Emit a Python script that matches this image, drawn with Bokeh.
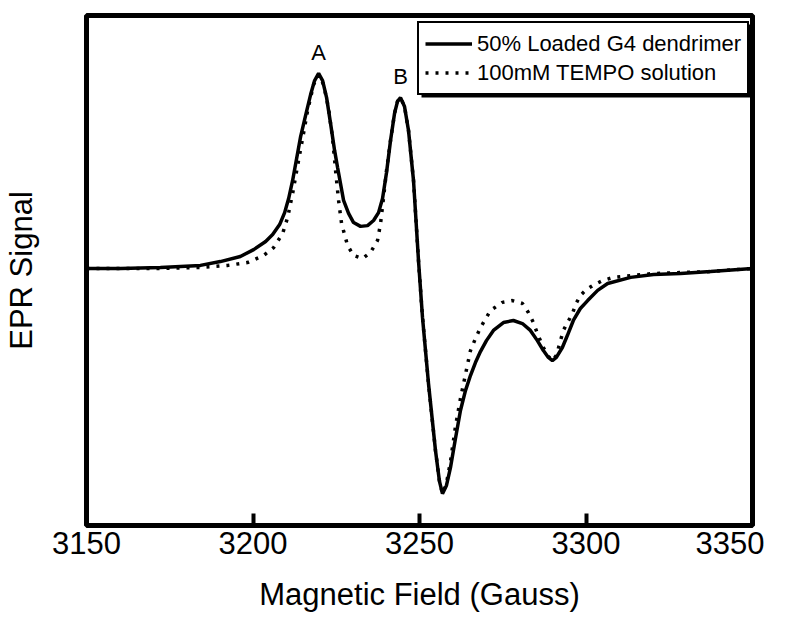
from bokeh.plotting import figure
from bokeh.models import FixedTicker, Legend, LegendItem, Range1d, BoxAnnotation
from bokeh.core.properties import value
from bokeh.embed import file_html
from bokeh.resources import INLINE

# Magnetic field (Gauss) and EPR signal (arbitrary units)
field_loaded = [3150.0, 3160.2, 3172.2, 3184.2, 3190.2, 3196.2, 3200.2, 3203.8, 3205.9, 3208.0,
                3209.5, 3210.7, 3211.9, 3213.1, 3214.3, 3215.8, 3217.3, 3218.5, 3219.7, 3220.9,
                3222.1, 3223.3, 3224.5, 3225.4, 3227.2, 3228.7, 3230.2, 3232.3, 3234.4, 3236.2,
                3237.7, 3238.9, 3240.1, 3241.3, 3242.5, 3243.4, 3244.3, 3245.5, 3246.7, 3248.2,
                3249.7, 3250.9, 3252.7, 3254.8, 3256.0, 3256.9, 3258.1, 3259.3, 3260.8, 3262.3,
                3263.8, 3265.3, 3266.8, 3268.3, 3270.1, 3272.2, 3275.2, 3278.2, 3280.9, 3283.3,
                3285.4, 3287.2, 3288.7, 3289.9, 3291.1, 3292.9, 3294.4, 3296.2, 3298.3, 3300.5,
                3303.5, 3306.5, 3313.4, 3320.3, 3328.4, 3337.4, 3350.0]
signal_loaded = [0.008, 0.008, 0.012, 0.020, 0.035, 0.055, 0.082, 0.114, 0.141, 0.180,
                 0.227, 0.282, 0.353, 0.439, 0.525, 0.608, 0.690, 0.745, 0.773, 0.745,
                 0.678, 0.576, 0.471, 0.404, 0.275, 0.224, 0.188, 0.173, 0.176, 0.196,
                 0.227, 0.282, 0.384, 0.510, 0.616, 0.663, 0.678, 0.643, 0.549, 0.353,
                 0.039, -0.184, -0.443, -0.706, -0.827, -0.875, -0.843, -0.773, -0.659, -0.549,
                 -0.471, -0.412, -0.361, -0.318, -0.275, -0.235, -0.204, -0.196, -0.208, -0.235,
                 -0.275, -0.314, -0.341, -0.353, -0.341, -0.302, -0.255, -0.196, -0.149, -0.118,
                 -0.078, -0.051, -0.027, -0.016, -0.012, -0.004, 0.008]

field_tempo = [3150.0, 3172.2, 3184.2, 3192.3, 3198.3, 3203.2, 3206.2, 3208.9, 3210.4, 3211.9,
               3213.4, 3214.9, 3216.4, 3218.2, 3219.7, 3221.2, 3222.7, 3223.9, 3224.8, 3225.7,
               3226.6, 3228.4, 3230.2, 3232.9, 3235.3, 3237.4, 3238.3, 3239.2, 3240.1, 3241.3,
               3242.5, 3243.4, 3244.3, 3245.5, 3246.7, 3248.2, 3249.7, 3250.9, 3252.7, 3254.8,
               3256.0, 3256.9, 3258.1, 3259.3, 3260.8, 3262.3, 3263.8, 3265.3, 3266.8, 3268.3,
               3271.3, 3274.9, 3277.9, 3280.9, 3282.7, 3284.2, 3285.4, 3287.2, 3288.7, 3289.9,
               3291.1, 3293.2, 3295.9, 3297.2, 3298.3, 3300.1, 3302.0, 3305.0, 3308.3, 3313.4,
               3320.3, 3328.4, 3337.4, 3350.0]
signal_tempo = [0.008, 0.008, 0.012, 0.020, 0.031, 0.059, 0.090, 0.145, 0.208, 0.302,
                0.412, 0.518, 0.627, 0.729, 0.769, 0.729, 0.635, 0.518, 0.392, 0.275,
                0.184, 0.098, 0.059, 0.047, 0.071, 0.118, 0.184, 0.286, 0.392, 0.510,
                0.616, 0.663, 0.678, 0.643, 0.549, 0.353, 0.039, -0.184, -0.443, -0.706,
                -0.827, -0.875, -0.835, -0.749, -0.612, -0.502, -0.408, -0.314, -0.267, -0.224,
                -0.157, -0.125, -0.118, -0.129, -0.165, -0.204, -0.247, -0.302, -0.337, -0.353,
                -0.333, -0.235, -0.169, -0.125, -0.098, -0.075, -0.059, -0.039, -0.027, -0.020,
                -0.012, -0.008, -0.004, 0.008]

x_ticks = [3150, 3200, 3250, 3300, 3350]
series_names = ["50% Loaded G4 dendrimer", "100mM TEMPO solution"]
peak_labels = ["A", "B"]

FONT = "Liberation Sans"

p = figure(frame_width=666, frame_height=510, min_border_left=86, min_border_top=15,
           min_border_right=12, min_border_bottom=100,
           x_range=Range1d(3150, 3350), y_range=Range1d(-1, 1),
           output_backend="svg", toolbar_location=None)
p.background_fill_color = "white"
p.border_fill_color = "white"
p.xgrid.visible = False
p.ygrid.visible = False
p.outline_line_color = "black"
p.outline_line_width = 5
p.outline_line_alpha = 1

xa = p.xaxis[0]
xa.ticker = FixedTicker(ticks=x_ticks)
xa.axis_line_color = None
xa.major_tick_in = 12
xa.major_tick_out = 0
xa.major_tick_line_width = 4
xa.major_tick_line_color = "black"
xa.minor_tick_line_color = None
xa.major_label_text_font = FONT
xa.major_label_text_font_size = "31px"
xa.major_label_text_color = "black"
xa.major_label_standoff = 6
xa.axis_label = "Magnetic Field (Gauss)"
xa.axis_label_text_font = FONT
xa.axis_label_text_font_size = "31px"
xa.axis_label_text_font_style = "normal"
xa.axis_label_text_color = "black"
xa.axis_label_standoff = 20

ya = p.yaxis[0]
ya.ticker = FixedTicker(ticks=[])
ya.axis_line_color = None
ya.major_tick_line_color = None
ya.minor_tick_line_color = None
ya.major_label_text_font_size = "0px"
ya.axis_label = "EPR Signal"
ya.axis_label_text_font = FONT
ya.axis_label_text_font_size = "31px"
ya.axis_label_text_font_style = "normal"
ya.axis_label_text_color = "black"
ya.axis_label_standoff = 48

r_tempo = p.line(field_tempo, signal_tempo, line_color="black", line_width=3.5,
                 line_dash="3 7")
r_loaded = p.line(field_loaded, signal_loaded, line_color="black", line_width=3.5)

# peak labels placed above the two low-field maxima of the loaded-dendrimer trace
iA = signal_loaded.index(max(signal_loaded[:30]))
iB = signal_loaded.index(max(signal_loaded[30:40]), 30)
p.text(x=[field_loaded[iA], field_loaded[iB]], y=[signal_loaded[iA], signal_loaded[iB]],
       text=peak_labels, text_font=value(FONT), text_font_size="22px",
       text_color="black", text_align="center", text_baseline="middle", y_offset=-21)

# drop shadow behind the legend box
shadow = BoxAnnotation(left=421, right=752, top=24, bottom=97,
                       left_units="canvas", right_units="canvas",
                       top_units="canvas", bottom_units="canvas",
                       fill_color="black", fill_alpha=1, line_color=None)
p.add_layout(shadow)

legend = Legend(items=[LegendItem(label=series_names[0], renderers=[r_loaded]),
                       LegendItem(label=series_names[1], renderers=[r_tempo])],
                location=(331, 430))
legend.label_text_font = FONT
legend.label_text_font_size = "22px"
legend.label_text_color = "black"
legend.label_height = 29
legend.glyph_height = 29
legend.glyph_width = 47
legend.label_standoff = 5
legend.spacing = 0
legend.padding = 6
legend.margin = 0
legend.border_line_color = "black"
legend.border_line_alpha = 1
legend.border_line_width = 2.5
legend.background_fill_color = "white"
legend.background_fill_alpha = 1
p.add_layout(legend)

open("out.html", "w").write(file_html(p, INLINE))
